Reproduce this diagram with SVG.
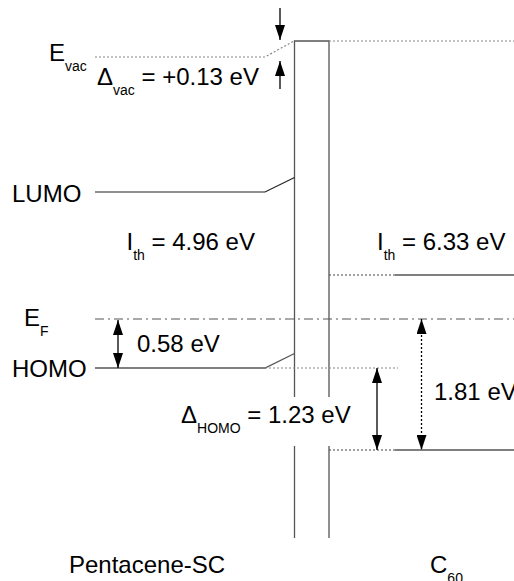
<svg xmlns="http://www.w3.org/2000/svg" width="514" height="581" viewBox="0 0 514 581">
<defs>
<marker id="ah" viewBox="0 0 15 10" refX="15" refY="5" markerWidth="15" markerHeight="10" markerUnits="userSpaceOnUse" orient="auto-start-reverse">
<path d="M0,0 L15,5 L0,10 Z" fill="#000"/>
</marker>
<style>
text{font-family:"Liberation Sans",Arial,sans-serif;font-size:24px;fill:#000}
.sub{font-size:14px}
.lvl{stroke:#555;stroke-width:1.3;fill:none}
.dk{stroke:#222;stroke-width:1.2;fill:none}
.dot{stroke:#888;stroke-width:1.2;stroke-dasharray:2 2;fill:none}
.dotd{stroke:#444;stroke-width:1.2;stroke-dasharray:2 2;fill:none}
.dd{stroke:#555;stroke-width:1.2;stroke-dasharray:9 4 2 4;fill:none}
.arr{stroke:#000;stroke-width:1.3;fill:none}
</style>
</defs>
<g id="interface">
<path class="lvl" d="M294.5,397 V41 H329 V397 M294.5,446 V538 M329,446 V538"/>
</g>
<g id="vacuum-level">
<path class="dot" d="M95,57 H265 L294,41"/>
<path class="dot" d="M329,41 H514"/>
<text x="49" y="61">E<tspan class="sub" dy="10">vac</tspan></text>
</g>
<g id="pentacene-lumo">
<path class="dk" d="M95,192 H265 L294.5,177.5"/>
<text x="12" y="202">LUMO</text>
</g>
<g id="pentacene-homo">
<path class="lvl" d="M95,368 H265 L294.5,353.5"/>
<path class="dot" d="M265,368 H398"/>
<text x="12" y="377">HOMO</text>
</g>
<g id="fermi-level">
<path class="dd" d="M95,319 H514"/>
<text x="24" y="326">E<tspan class="sub" dy="10">F</tspan></text>
</g>
<g id="c60-lumo">
<path class="dotd" d="M329,275 H395"/>
<path class="lvl" d="M395,275 H514"/>
</g>
<g id="c60-homo">
<path class="dotd" d="M329,450 H395"/>
<path class="lvl" d="M395,450 H514"/>
</g>
<g id="connectors">
<path class="arr" d="M280,8 V40" marker-end="url(#ah)"/>
<path class="arr" d="M280,89 V61" marker-end="url(#ah)"/>
<path class="arr" d="M118,320 V368" marker-start="url(#ah)" marker-end="url(#ah)"/>
<path class="arr" d="M377,368 V450" marker-start="url(#ah)" marker-end="url(#ah)"/>
<path class="arr" d="M421.5,319 V450" stroke-dasharray="2 2" marker-start="url(#ah)" marker-end="url(#ah)"/>
</g>
<g id="labels">
<text x="97" y="85">Δ<tspan class="sub" dy="10">vac</tspan><tspan dy="-10"> = +0.13 eV</tspan></text>
<text x="126.5" y="250">I<tspan class="sub" dy="10">th</tspan><tspan dy="-10"> = 4.96 eV</tspan></text>
<text x="377" y="250">I<tspan class="sub" dy="10">th</tspan><tspan dy="-10"> = 6.33 eV</tspan></text>
<text x="137" y="352">0.58 eV</text>
<text x="181" y="423">Δ<tspan class="sub" dy="10">HOMO</tspan><tspan dy="-10"> = 1.23 eV</tspan></text>
<text x="434" y="400">1.81 eV</text>
<text x="69" y="573">Pentacene-SC</text>
<text x="430" y="573">C<tspan class="sub" dy="10">60</tspan></text>
</g>
</svg>
